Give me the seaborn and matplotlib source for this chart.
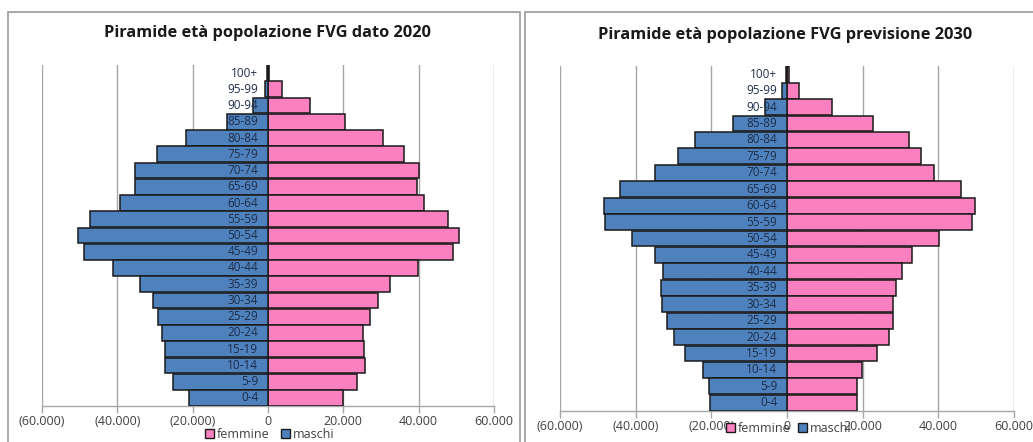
import seaborn as sns
import matplotlib.pyplot as plt
import pandas as pd
from matplotlib.ticker import FuncFormatter
from matplotlib.patches import Rectangle, Patch

# age classes, top to bottom as drawn
age_classes = ['100+', '95-99', '90-94', '85-89', '80-84', '75-79', '70-74',
               '65-69', '60-64', '55-59', '50-54', '45-49', '40-44', '35-39',
               '30-34', '25-29', '20-24', '15-19', '10-14', '5-9', '0-4']

# 2020 data
maschi_2020 = [300, 800, 4000, 10900, 21700, 29600, 35400, 35400, 39200, 47300, 50400,
               48900, 41100, 33900, 30400, 29100, 28100, 27300, 27300, 25300, 21000]
femmine_2020 = [300, 3800, 11100, 20400, 30500, 36200, 40100, 39500, 41500, 47900, 50700,
                49100, 39800, 32300, 29200, 27000, 25200, 25500, 25700, 23600, 19900]

# 2030 forecast
maschi_2030 = [200, 1300, 5900, 14300, 24200, 28700, 34900, 44100, 48500, 48100, 41100,
               35000, 32900, 33400, 33100, 31600, 30000, 26900, 22100, 20500, 20300]
femmine_2030 = [400, 3300, 11900, 22800, 32200, 35300, 38900, 46000, 49700, 48800, 40100,
                33000, 30300, 28900, 27900, 28000, 27000, 23800, 19700, 18500, 18600]

blue = '#4f81bd'
pink = '#fa80c0'
grid_col = '#a6a6a6'


def fmt_thousands(v, pos):
    s = f'{abs(int(round(v))):,}'.replace(',', '.')
    return f'({s})' if v < 0 else s


def pyramid(ax, maschi, femmine):
    df = pd.DataFrame({
        'age': age_classes * 2,
        'value': [-m for m in maschi] + femmine,
        'sesso': ['maschi'] * len(maschi) + ['femmine'] * len(femmine),
    })
    sns.barplot(data=df, x='value', y='age', hue='sesso', order=age_classes,
                hue_order=['femmine', 'maschi'], palette={'femmine': pink, 'maschi': blue},
                dodge=False, width=0.97, saturation=1, edgecolor='#1a1a1a', linewidth=1.1,
                legend=False, ax=ax, zorder=3)
    ax.set_xlim(-60000, 60000)
    ax.set_xticks([-60000, -40000, -20000, 0, 20000, 40000, 60000])
    ax.xaxis.set_major_formatter(FuncFormatter(fmt_thousands))
    ax.grid(axis='x', color=grid_col, linewidth=1.0, zorder=0)
    ax.grid(axis='y', visible=False)
    ax.set_axisbelow(True)
    ax.set_yticks([])
    ax.set_xlabel('')
    ax.set_ylabel('')
    for side in ['left', 'right', 'top']:
        ax.spines[side].set_visible(False)
    ax.spines['bottom'].set_color(grid_col)
    ax.spines['bottom'].set_linewidth(1.0)
    ax.tick_params(axis='x', colors=grid_col, length=5, width=1.0, labelsize=9,
                   labelcolor='#404040', pad=1.5)
    ax.axvline(0, color=grid_col, linewidth=1.0, zorder=1)
    ax.set_facecolor('white')

    # class labels next to the zero line
    for i, lab in enumerate(age_classes):
        ax.annotate(lab, xy=(0, i), xytext=(-7, 0), textcoords='offset points',
                    ha='right', va='center', fontsize=8.5, color='#1c2d4a', zorder=5)

    handles = [Patch(facecolor=pink, edgecolor='#1a1a1a', linewidth=1.0, label='femmine'),
               Patch(facecolor=blue, edgecolor='#1a1a1a', linewidth=1.0, label='maschi')]
    return handles


plt.rcParams['font.family'] = ['Open Sans', 'DejaVu Sans']
fig = plt.figure(figsize=(10.33, 4.42), dpi=100)
W, H = 1033, 442

# panel frames
fig.patches.append(Rectangle((8 / W, -0.1), (520 - 8) / W, 1.1 - 12 / H,
                             transform=fig.transFigure, fill=False,
                             edgecolor='#9a9a9a', linewidth=1.2))
fig.patches.append(Rectangle((525 / W, -0.1), (1040 - 525) / W, 1.1 - 12 / H,
                             transform=fig.transFigure, fill=False,
                             edgecolor='#9a9a9a', linewidth=1.2))

ax1 = fig.add_axes([42 / W, 1 - 406 / H, (494 - 42) / W, (406 - 65) / H])
ax2 = fig.add_axes([560 / W, 1 - 411 / H, (1014 - 560) / W, (411 - 66) / H])

h1 = pyramid(ax1, maschi_2020, femmine_2020)
h2 = pyramid(ax2, maschi_2030, femmine_2030)

fig.text(267 / W, 1 - 33 / H, 'Piramide età popolazione FVG dato 2020',
         ha='center', va='center', fontsize=11.8, fontweight='bold', color='#1a1a1a')
fig.text(785 / W, 1 - 35 / H, 'Piramide età popolazione FVG previsione 2030',
         ha='center', va='center', fontsize=11.8, fontweight='bold', color='#1a1a1a')

leg_kw = dict(ncol=2, frameon=False, fontsize=9, handlelength=0.7, handleheight=0.7,
              handletextpad=0.25, columnspacing=0.9, loc='center',
              labelcolor='#404040', borderaxespad=0)
fig.legend(handles=h1, bbox_to_anchor=(270 / W, 1 - 434.5 / H), **leg_kw)
leg_kw['columnspacing'] = 0.6
fig.legend(handles=h2, bbox_to_anchor=(789 / W, 1 - 428 / H), **leg_kw)

fig.savefig('out.png', dpi=100, facecolor='white')
